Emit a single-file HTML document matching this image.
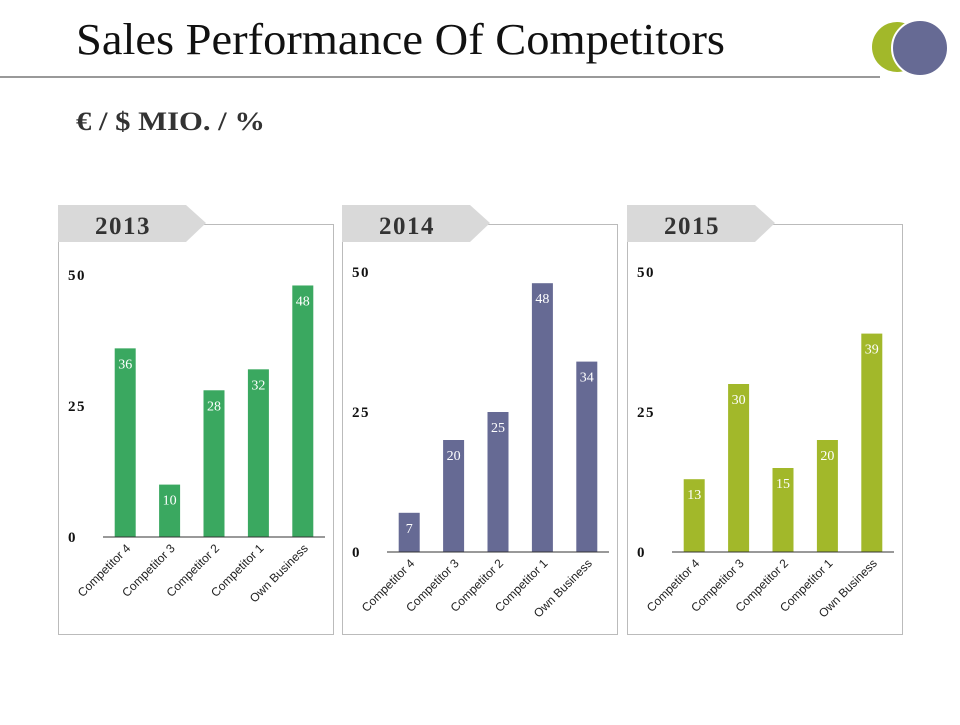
<!DOCTYPE html>
<html><head><meta charset="utf-8"><style>
body{margin:0;width:960px;height:720px;background:#fff;overflow:hidden;font-family:"Liberation Serif",serif}
</style></head><body>
<svg width="960" height="720" viewBox="0 0 960 720" xmlns="http://www.w3.org/2000/svg">
<text x="76" y="54" font-family="Liberation Serif,serif" font-size="44" textLength="649" lengthAdjust="spacingAndGlyphs" fill="#111">Sales Performance Of Competitors</text>
<line x1="0" y1="77" x2="880" y2="77" stroke="#333" stroke-width="1"/>
<circle cx="897" cy="47" r="25" fill="#a2b82a"/>
<circle cx="920" cy="48" r="28" fill="#666a94" stroke="#fff" stroke-width="2"/>
<text x="76" y="130" font-size="26" font-weight="bold" textLength="189" lengthAdjust="spacingAndGlyphs" fill="#333">€ / $ MIO. / %</text>
<g id="charts"></g>
</svg>
<script>
const categories=["Competitor 4","Competitor 3","Competitor 2","Competitor 1","Own Business"];
const years=["2013","2014","2015"];
const values2013=[36,10,28,32,48];
const values2014=[7,20,25,48,34];
const values2015=[13,30,15,20,39];
const tickLabels=[0,25,50];
const NS="http://www.w3.org/2000/svg";
const root=document.getElementById("charts");
function mk(tag,attrs,parent){const e=document.createElementNS(NS,tag);for(const k in attrs)e.setAttribute(k,attrs[k]);(parent||root).appendChild(e);return e;}
const panels=[
 {x:58,base:537,top:275,color:"#3aa860",vals:values2013},
 {x:342,base:552,top:272,color:"#666a94",vals:values2014},
 {x:627,base:552,top:272,color:"#a2b82a",vals:values2015}];
panels.forEach((p,i)=>{
 const g=mk("g",{});
 
 
 const box=mk("rect",{x:p.x+0.5,y:224.5,width:275,height:410,fill:"#fff",stroke:"#bbb"},g);
 
 
 const hd=mk("polygon",{points:`${p.x},205 ${p.x+128},205 ${p.x+148},223 ${p.x+128},242 ${p.x},242`,fill:"#d9d9d9"},g);
 
 
 const ht=mk("text",{x:p.x+65,y:234,"text-anchor":"middle","font-size":"25","font-weight":"bold","letter-spacing":"1.5",fill:"#333"},g);
 ht.textContent=years[i];
 
 
 const vmax=tickLabels[tickLabels.length-1];
 const y=v=>p.base-(p.base-p.top)*v/vmax;
 const x0=p.x+45,x1=p.x+267,step=(x1-x0)/categories.length;
 const xc=j=>x0+step*(j+0.5);
 tickLabels.forEach(t=>{
  const tt=mk("text",{x:p.x+10,y:y(t)+5,"font-size":"15","font-weight":"bold","letter-spacing":"1.5",fill:"#111"},g);
  tt.textContent=t;
  
  
 });
 p.vals.forEach((v,j)=>{
  const b=mk("rect",{x:xc(j)-10.5,y:y(v),width:21,height:p.base-y(v),fill:p.color},g);
  
  
  const vl=mk("text",{x:xc(j),y:y(v)+20,"text-anchor":"middle","font-size":"14",fill:"#fff"},g);
  vl.textContent=v;
  
  
  const cl=mk("text",{transform:`translate(${xc(j)+6},${p.base+12}) rotate(-45)`,"text-anchor":"end","font-family":"Liberation Sans,sans-serif","font-size":"12",fill:"#222"},g);
  cl.textContent=categories[j];
  
  
 });
 const ax=mk("line",{x1:x0,y1:p.base,x2:x1,y2:p.base,stroke:"#333","stroke-width":1},g);
 
 
});
</script>
</body></html>
